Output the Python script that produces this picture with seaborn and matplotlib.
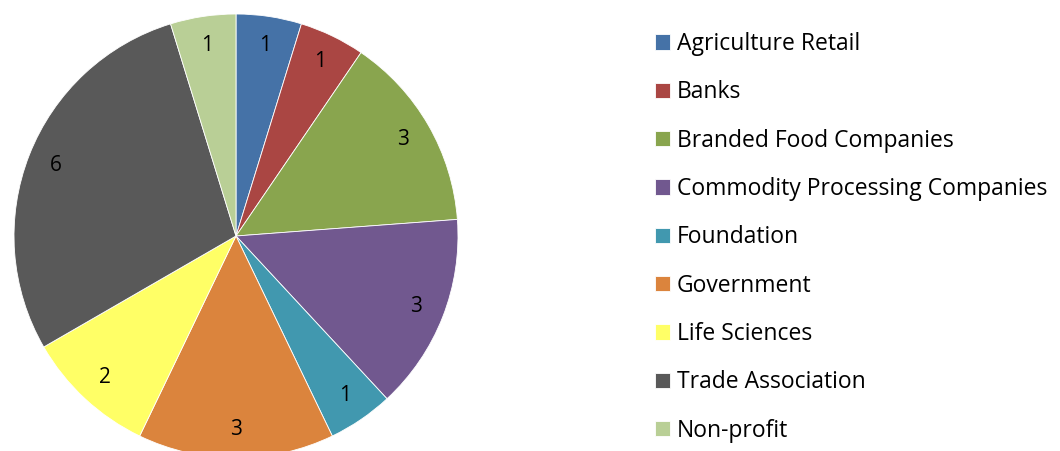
import matplotlib
matplotlib.use('Agg')
import numpy as np
import seaborn as sns
import matplotlib.pyplot as plt

categories = ['Agriculture Retail', 'Banks', 'Branded Food Companies',
              'Commodity Processing Companies', 'Foundation', 'Government',
              'Life Sciences', 'Trade Association', 'Non-profit']
counts = [1, 1, 3, 3, 1, 3, 2, 6, 1]
slice_colors = ['#4572A7', '#AA4643', '#89A54E', '#71588F', '#4198AF',
                '#DB843D', '#FFFF66', '#595959', '#B9CF96']

sns.set_style('white')
plt.rcParams['font.family'] = ['Open Sans', 'DejaVu Sans']
plt.rcParams['text.color'] = 'black'

fig = plt.figure(figsize=(10.6, 4.51), dpi=100)
ax = fig.add_axes([14 / 1060, -7 / 451, 444 / 1060, 444 / 451])

palette = sns.color_palette(slice_colors)
wedges, texts = ax.pie(counts, colors=palette, startangle=90, counterclock=False,
                       labels=[str(c) for c in counts], labeldistance=0.87,
                       wedgeprops=dict(linewidth=0.6, edgecolor='white'),
                       textprops=dict(fontsize=15, color='black'))
for t in texts:
    t.set_horizontalalignment('center')
    t.set_verticalalignment('center')
ax.set_xlim(-1, 1)
ax.set_ylim(-1, 1)

fig.legend(wedges, categories, loc='upper left', bbox_to_anchor=(646 / 1060, 1 - 23 / 451),
           frameon=False, fontsize=16.5, handlelength=0.65, handleheight=0.65,
           handletextpad=0.3, labelspacing=1.06, borderaxespad=0, labelcolor='black')

fig.savefig('out.png', dpi=100)
